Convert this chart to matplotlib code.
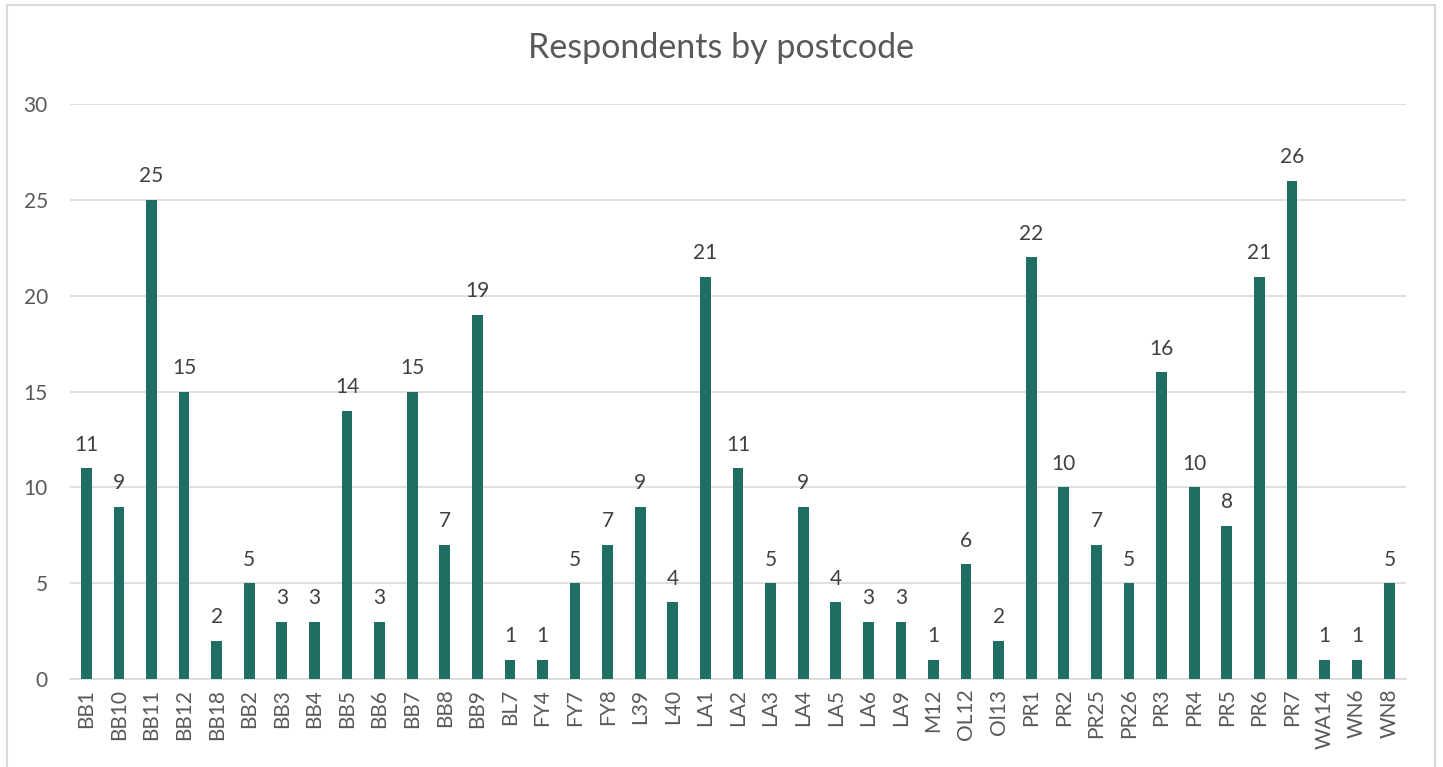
import numpy as np
import matplotlib.pyplot as plt
from matplotlib.patches import Rectangle

postcodes = ['BB1', 'BB10', 'BB11', 'BB12', 'BB18', 'BB2', 'BB3', 'BB4', 'BB5', 'BB6',
             'BB7', 'BB8', 'BB9', 'BL7', 'FY4', 'FY7', 'FY8', 'L39', 'L40', 'LA1',
             'LA2', 'LA3', 'LA4', 'LA5', 'LA6', 'LA9', 'M12', 'OL12', 'Ol13', 'PR1',
             'PR2', 'PR25', 'PR26', 'PR3', 'PR4', 'PR5', 'PR6', 'PR7', 'WA14', 'WN6', 'WN8']
respondents = [11, 9, 25, 15, 2, 5, 3, 3, 14, 3,
               15, 7, 19, 1, 1, 5, 7, 9, 4, 21,
               11, 5, 9, 4, 3, 3, 1, 6, 2, 22,
               10, 7, 5, 16, 10, 8, 21, 26, 1, 1, 5]

plt.rcParams['font.family'] = ['Lato', 'DejaVu Sans']
text_col = '#595959'
bar_col = '#1E6E63'

fig = plt.figure(figsize=(14.43, 7.67), dpi=100)
fig.patches.append(Rectangle((7 / 1443, -0.05), 1428 / 1443, 1.05 - 5 / 767,
                             transform=fig.transFigure, fill=False,
                             edgecolor='#D9D9D9', linewidth=1.5))
ax = fig.add_axes([70 / 1443, 1 - 679 / 767, 1336 / 1443, 575 / 767])

x = np.arange(len(postcodes))
ax.bar(x, respondents, width=0.33, color=bar_col, zorder=3)
for xi, v in zip(x, respondents):
    ax.text(xi, v + 0.7, str(v), ha='center', va='bottom', fontsize=15, color='#404040')

ax.set_xlim(-0.5, len(postcodes) - 0.5)
ax.set_ylim(0, 30)
ax.set_yticks(range(0, 31, 5))
ax.set_xticks(x)
ax.set_xticklabels(postcodes, rotation=90)
ax.tick_params(axis='both', length=0, labelsize=15, colors=text_col)
ax.tick_params(axis='y', pad=16)
ax.tick_params(axis='x', pad=7)
ax.grid(axis='y', color='#D9D9D9', linewidth=1.2, zorder=0)
for s in ['top', 'right', 'left']:
    ax.spines[s].set_visible(False)
ax.spines['bottom'].set_color('#D9D9D9')
ax.spines['bottom'].set_linewidth(1.2)

fig.text(0.5, 1 - 48 / 767, 'Respondents by postcode', ha='center', va='center',
         fontsize=24.5, color=text_col)

fig.savefig('out.png', dpi=100)
